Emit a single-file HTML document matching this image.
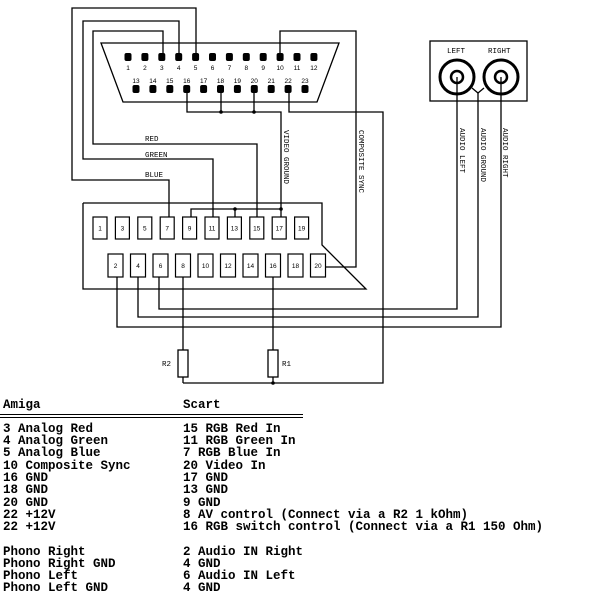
<!DOCTYPE html>
<html><head><meta charset="utf-8"><style>
html,body{margin:0;padding:0;background:#fff;width:600px;height:600px;overflow:hidden}
svg{display:block}
.t{font-family:"Liberation Mono",monospace;font-size:12.5px;fill:#000;font-weight:bold}
.s{font-family:"Liberation Sans",sans-serif;font-size:6.5px;fill:#000}
.v{font-family:"Liberation Mono",monospace;font-size:7.5px;fill:#000}
</style></head><body>
<svg width="600" height="600" viewBox="0 0 600 600" xmlns="http://www.w3.org/2000/svg">
<g fill="none" stroke="#000" stroke-width="1.3">
<!-- DB23 -->
<polygon points="101,43 339,43 317,102 123,102"/>
<!-- wires amiga->scart -->
<polyline points="196,57 196,8 72,8 72,180 169,180 169,217"/>
<polyline points="179,57 179,21 83,21 83,159 213,159 213,217"/>
<polyline points="163,57 163,31 93,31 93,144 257,144 257,217"/>
<polyline points="280,57 280,31 356,31 356,267 326,267"/>
<polyline points="187,89 187,112 281,112 281,217"/>
<line x1="221" y1="89" x2="221" y2="112"/>
<line x1="254" y1="89" x2="254" y2="112"/>
<polyline points="289,89 289,112 383,112 383,383 183,383"/>
<polyline points="191,217 191,209 282,209"/>
<line x1="235" y1="209" x2="235" y2="217"/>
<!-- scart body -->
<polyline points="83,203 322,203 322,245 366,289 83,289 83,203"/>
<!-- audio -->
<rect x="430" y="41" width="97" height="60"/>
<circle cx="457" cy="77" r="17" stroke-width="3"/>
<circle cx="457" cy="77" r="6" stroke-width="2.5"/>
<circle cx="501" cy="77" r="17" stroke-width="3"/>
<circle cx="501" cy="77" r="6" stroke-width="2.5"/>
<polyline points="472,88 478,93 484,88"/>
<polyline points="457,77 457,309 159,309 159,277"/>
<polyline points="478,93 478,317 138,317 138,277"/>
<polyline points="501,77 501,327 117,327 117,277"/>
<!-- resistors -->
<line x1="183" y1="277" x2="183" y2="383"/>
<line x1="273" y1="277" x2="273" y2="383"/>
<rect x="178" y="350" width="10" height="27" fill="#fff"/>
<rect x="268" y="350" width="10" height="27" fill="#fff"/>
<!-- double rule -->
<line x1="0" y1="414.5" x2="303" y2="414.5" stroke-width="1"/>
<line x1="0" y1="417.5" x2="303" y2="417.5" stroke-width="1"/>
</g>
<g fill="#000">
<circle cx="221" cy="112" r="1.8"/><circle cx="254" cy="112" r="1.8"/>
<circle cx="235" cy="209" r="1.8"/><circle cx="281" cy="209" r="1.8"/>
<circle cx="273" cy="383" r="1.8"/>
</g>
<!-- DB23 pins -->
<g fill="#000" id="pins"></g>
<g id="lbl"></g>
<g id="scart"></g>
<text class="v" x="145" y="141">RED</text>
<text class="v" x="145" y="157">GREEN</text>
<text class="v" x="145" y="177">BLUE</text>
<text class="v" transform="translate(284,130) rotate(90)">VIDEO GROUND</text>
<text class="v" transform="translate(359,130) rotate(90)">COMPOSITE SYNC</text>
<text class="v" transform="translate(460,128) rotate(90)">AUDIO LEFT</text>
<text class="v" transform="translate(481,128) rotate(90)">AUDIO GROUND</text>
<text class="v" transform="translate(503,128) rotate(90)">AUDIO RIGHT</text>
<text class="v" x="447" y="53">LEFT</text>
<text class="v" x="488" y="53">RIGHT</text>
<text class="v" x="162" y="366">R2</text>
<text class="v" x="282" y="366">R1</text>
<g class="t">
<text x="3" y="408">Amiga</text><text x="183" y="408">Scart</text>
<text x="3" y="432">3 Analog Red</text><text x="183" y="432">15 RGB Red In</text>
<text x="3" y="444">4 Analog Green</text><text x="183" y="444">11 RGB Green In</text>
<text x="3" y="456">5 Analog Blue</text><text x="183" y="456">7 RGB Blue In</text>
<text x="3" y="469">10 Composite Sync</text><text x="183" y="469">20 Video In</text>
<text x="3" y="481">16 GND</text><text x="183" y="481">17 GND</text>
<text x="3" y="493">18 GND</text><text x="183" y="493">13 GND</text>
<text x="3" y="506">20 GND</text><text x="183" y="506">9 GND</text>
<text x="3" y="518">22 +12V</text><text x="183" y="518">8 AV control (Connect via a R2 1 kOhm)</text>
<text x="3" y="530">22 +12V</text><text x="183" y="530">16 RGB switch control (Connect via a R1 150 Ohm)</text>
<text x="3" y="555">Phono Right</text><text x="183" y="555">2 Audio IN Right</text>
<text x="3" y="567">Phono Right GND</text><text x="183" y="567">4 GND</text>
<text x="3" y="579">Phono Left</text><text x="183" y="579">6 Audio IN Left</text>
<text x="3" y="591">Phono Left GND</text><text x="183" y="591">4 GND</text>
</g>
<script>
var ns="http://www.w3.org/2000/svg";
function el(p,t,a,txt){var e=document.createElementNS(ns,t);for(var k in a)e.setAttribute(k,a[k]);if(txt!=null)e.textContent=txt;document.getElementById(p).appendChild(e);}
for(var i=0;i<12;i++){var x=128+i*16.9;el("pins","rect",{x:x-3.5,y:53,width:7,height:8,rx:2});el("lbl","text",{x:x,y:70,"class":"s","text-anchor":"middle"},String(i+1));}
for(var i=0;i<11;i++){var x=136+i*16.9;el("pins","rect",{x:x-3.5,y:85,width:7,height:8,rx:2});el("lbl","text",{x:x,y:83,"class":"s","text-anchor":"middle"},String(i+13));}
for(var i=0;i<10;i++){var x=93+i*22.4;el("scart","rect",{x:x,y:217,width:14,height:22,fill:"#fff",stroke:"#000","stroke-width":1.2});el("scart","text",{x:x+7,y:230.5,"class":"s","text-anchor":"middle"},String(2*i+1));
var x2=108+i*22.5;el("scart","rect",{x:x2,y:254,width:15,height:23,fill:"#fff",stroke:"#000","stroke-width":1.2});el("scart","text",{x:x2+7.5,y:268,"class":"s","text-anchor":"middle"},String(2*i+2));}
</script>
</svg>
</body></html>
